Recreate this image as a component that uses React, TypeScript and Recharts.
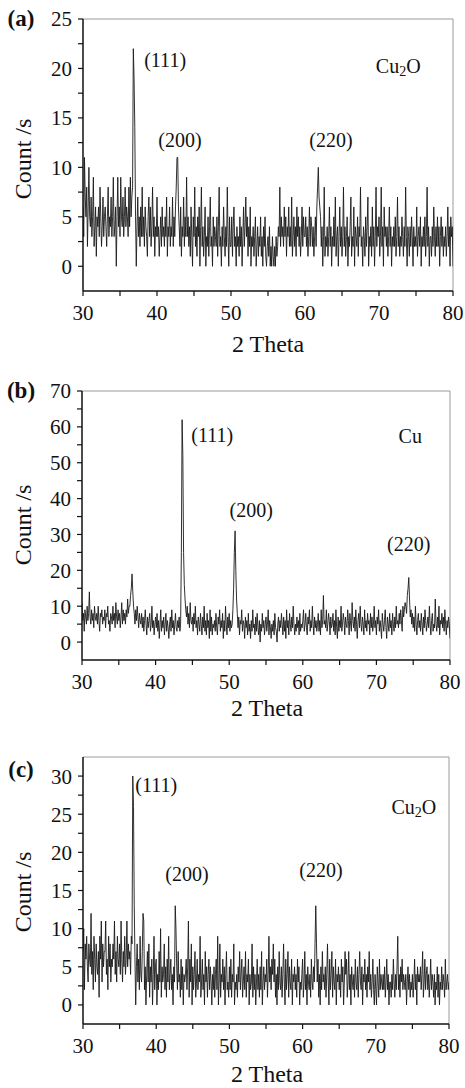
import React from 'react';
import { LineChart, Line, XAxis, YAxis, ReferenceDot, ReferenceLine } from 'recharts';

// 2-theta categories: 30.0 .. 80.0 in 0.1 degree steps
const theta: number[] = Array.from({ length: 501 }, (_, i) => Math.round((30 + i * 0.1) * 10) / 10);

// (a) Cu2O, one row per degree (x.0 .. x.9)
const countsA: number[] = [
  6, 3, 11, 7, 5, 8, 2, 6, 10, 5,
  4, 7, 3, 5, 9, 2, 4, 6, 1, 5,
  4, 6, 3, 8, 5, 2, 4, 7, 3, 5,
  6, 4, 2, 5, 8, 3, 5, 4, 7, 3,
  5, 9, 3, 4, 6, 0, 5, 9, 4, 6,
  3, 9, 5, 4, 7, 3, 5, 8, 4, 6,
  5, 3, 8, 4, 9, 5, 7, 8, 22, 19,
  14, 5, 0, 4, 7, 3, 5, 2, 6, 3,
  8, 3, 5, 2, 6, 4, 3, 1, 5, 7,
  3, 6, 2, 4, 8, 3, 5, 1, 4, 3,
  7, 3, 4, 1, 3, 5, 2, 6, 3, 4,
  2, 5, 3, 7, 1, 4, 3, 6, 2, 4,
  3, 7, 2, 5, 3, 6, 8, 11, 11, 6,
  4, 2, 6, 1, 4, 3, 7, 2, 5, 3,
  9, 3, 5, 2, 4, 1, 6, 3, 0, 5,
  3, 8, 2, 4, 1, 5, 3, 6, 0, 4,
  8, 2, 4, 1, 3, 6, 0, 3, 2, 5,
  1, 4, 7, 2, 3, 0, 5, 2, 4, 3,
  2, 5, 1, 4, 8, 2, 3, 0, 4, 2,
  6, 3, 1, 4, 2, 8, 3, 0, 5, 2,
  2, 5, 1, 4, 6, 2, 3, 0, 4, 2,
  3, 1, 5, 2, 4, 0, 3, 6, 2, 4,
  7, 3, 5, 1, 4, 2, 6, 0, 3, 2,
  4, 1, 3, 5, 0, 2, 4, 1, 3, 2,
  5, 1, 3, 0, 4, 2, 5, 1, 0, 2,
  3, 1, 4, 0, 2, 0, 3, 1, 0, 2,
  0, 3, 1, 2, 4, 3, 8, 2, 5, 3,
  4, 2, 6, 3, 5, 1, 4, 3, 6, 2,
  4, 2, 7, 1, 3, 5, 2, 4, 1, 6,
  3, 5, 2, 4, 1, 3, 6, 2, 5, 3,
  3, 5, 2, 4, 1, 3, 6, 2, 5, 4,
  2, 4, 1, 3, 5, 2, 6, 8, 10, 7,
  6, 5, 2, 4, 0, 3, 8, 1, 3, 2,
  4, 1, 3, 6, 2, 4, 0, 3, 2, 5,
  2, 7, 1, 3, 4, 0, 3, 6, 2, 4,
  1, 3, 8, 2, 4, 1, 3, 5, 0, 3,
  2, 4, 7, 1, 3, 2, 6, 0, 4, 3,
  2, 5, 1, 4, 3, 8, 2, 3, 0, 4,
  3, 1, 5, 2, 4, 7, 0, 3, 2, 4,
  1, 6, 2, 4, 0, 3, 8, 2, 4, 3,
  5, 1, 3, 8, 2, 4, 0, 6, 3, 4,
  2, 4, 1, 3, 6, 2, 4, 0, 3, 2,
  4, 2, 5, 1, 3, 7, 2, 4, 1, 3,
  2, 5, 3, 1, 4, 2, 8, 3, 0, 4,
  3, 1, 4, 2, 5, 3, 0, 4, 2, 3,
  2, 6, 1, 3, 4, 2, 5, 0, 3, 2,
  4, 2, 5, 1, 3, 8, 2, 4, 0, 3,
  3, 1, 4, 2, 6, 3, 1, 4, 2, 5,
  2, 4, 0, 3, 5, 2, 4, 1, 3, 2,
  4, 1, 3, 6, 2, 4, 0, 5, 3, 4,
  0,
];

// (b) Cu
const countsB: number[] = [
  11, 6, 8, 3, 9, 7, 5, 10, 6, 8,
  14, 7, 5, 9, 6, 8, 4, 10, 7, 6,
  8, 5, 10, 6, 3, 8, 7, 9, 5, 7,
  6, 9, 4, 8, 7, 10, 5, 6, 3, 8,
  7, 5, 10, 6, 8, 4, 11, 7, 5, 9,
  6, 8, 4, 7, 11, 5, 9, 6, 8, 5,
  9, 7, 12, 8, 10, 10, 13, 15, 19, 14,
  10, 8, 5, 9, 6, 10, 7, 4, 8, 6,
  5, 8, 4, 7, 3, 6, 9, 5, 2, 7,
  4, 6, 8, 3, 5, 10, 4, 6, 2, 5,
  7, 4, 8, 3, 6, 1, 5, 9, 3, 6,
  4, 7, 2, 5, 8, 3, 6, 4, 1, 5,
  7, 3, 9, 4, 6, 2, 5, 8, 4, 3,
  6, 4, 7, 3, 5, 25, 62, 52, 25, 16,
  12, 9, 7, 10, 5, 8, 4, 11, 6, 5,
  7, 3, 8, 5, 10, 4, 6, 2, 7, 5,
  3, 8, 5, 2, 7, 4, 10, 3, 6, 2,
  8, 4, 6, 1, 9, 3, 7, 2, 5, 4,
  6, 3, 8, 4, 2, 7, 5, 9, 3, 6,
  4, 8, 1, 6, 3, 10, 5, 2, 7, 4,
  8, 3, 6, 4, 5, 9, 15, 25, 31, 20,
  12, 8, 4, 7, 2, 6, 5, 9, 3, 6,
  5, 1, 7, 4, 6, 2, 8, 3, 5, 1,
  6, 3, 9, 4, 5, 2, 7, 3, 8, 4,
  2, 6, 0, 5, 3, 8, 4, 6, 2, 5,
  7, 3, 5, 9, 2, 6, 4, 1, 5, 3,
  6, 2, 8, 4, 3, 0, 5, 7, 3, 6,
  4, 8, 5, 2, 7, 3, 6, 1, 9, 4,
  6, 2, 8, 5, 3, 7, 4, 10, 5, 2,
  5, 3, 7, 4, 6, 2, 8, 3, 5, 4,
  6, 9, 3, 5, 8, 4, 2, 7, 5, 9,
  3, 6, 4, 10, 5, 2, 7, 4, 6, 3,
  5, 8, 3, 6, 2, 9, 4, 6, 13, 5,
  6, 4, 9, 3, 5, 8, 6, 2, 7, 4,
  5, 8, 3, 6, 2, 9, 4, 1, 7, 3,
  6, 4, 10, 3, 5, 8, 6, 2, 7, 5,
  4, 9, 6, 2, 8, 5, 3, 11, 6, 4,
  7, 3, 9, 5, 1, 6, 8, 4, 10, 5,
  3, 7, 5, 2, 9, 4, 6, 3, 8, 5,
  6, 2, 8, 4, 7, 3, 5, 10, 4, 6,
  2, 7, 5, 9, 3, 6, 4, 1, 8, 5,
  3, 6, 9, 4, 1, 7, 5, 3, 8, 4,
  6, 2, 8, 5, 3, 7, 4, 10, 5, 6,
  4, 8, 5, 9, 6, 3, 10, 7, 9, 11,
  10, 8, 13, 15, 18, 12, 7, 9, 5, 8,
  4, 7, 3, 10, 5, 2, 6, 8, 4, 6,
  3, 8, 5, 2, 7, 4, 9, 6, 3, 5,
  7, 4, 10, 5, 2, 6, 8, 3, 5, 4,
  12, 5, 3, 7, 4, 10, 2, 6, 5, 8,
  4, 7, 3, 9, 5, 2, 6, 4, 7, 5,
  1,
];

// (c) Cu2O
const countsC: number[] = [
  7, 10, 2, 8, 6, 9, 5, 3, 8, 6,
  5, 12, 4, 7, 2, 9, 6, 3, 8, 5,
  4, 7, 1, 9, 6, 11, 3, 8, 5, 7,
  7, 11, 4, 6, 2, 9, 5, 8, 3, 6,
  5, 8, 6, 11, 4, 7, 3, 9, 6, 5,
  8, 4, 11, 6, 3, 7, 5, 9, 4, 6,
  11, 5, 8, 6, 7, 4, 9, 8, 30, 26,
  13, 6, 0, 5, 8, 3, 6, 2, 9, 4,
  3, 7, 12, 11, 2, 5, 0, 4, 7, 3,
  8, 1, 5, 3, 6, 0, 4, 9, 2, 5,
  6, 0, 4, 2, 7, 3, 10, 1, 5, 3,
  4, 8, 2, 5, 1, 6, 3, 9, 2, 4,
  6, 2, 4, 0, 5, 3, 13, 10, 5, 2,
  7, 3, 4, 1, 6, 2, 5, 0, 4, 3,
  4, 6, 2, 5, 11, 1, 6, 3, 8, 0,
  5, 2, 4, 7, 1, 3, 6, 2, 4, 3,
  9, 1, 3, 6, 2, 4, 0, 7, 3, 5,
  1, 4, 6, 2, 5, 3, 0, 4, 2, 5,
  1, 4, 6, 2, 9, 0, 3, 8, 1, 4,
  3, 6, 2, 5, 0, 4, 7, 2, 3, 1,
  5, 2, 6, 1, 4, 3, 8, 0, 3, 2,
  4, 1, 5, 3, 7, 2, 4, 6, 1, 3,
  5, 2, 7, 1, 4, 3, 6, 0, 4, 2,
  3, 8, 1, 5, 2, 4, 0, 3, 6, 2,
  4, 1, 5, 2, 7, 0, 3, 5, 2, 4,
  3, 6, 1, 4, 9, 3, 5, 2, 6, 4,
  8, 3, 6, 1, 4, 0, 5, 2, 7, 3,
  2, 5, 1, 4, 8, 3, 0, 6, 2, 4,
  7, 1, 5, 3, 2, 6, 0, 4, 3, 5,
  2, 4, 1, 6, 3, 5, 0, 3, 2, 4,
  6, 1, 3, 7, 2, 4, 0, 5, 3, 2,
  4, 1, 6, 3, 2, 5, 3, 8, 13, 8,
  3, 6, 1, 4, 0, 5, 2, 7, 3, 4,
  2, 5, 1, 4, 8, 3, 0, 6, 2, 4,
  7, 1, 5, 3, 2, 6, 0, 4, 3, 5,
  2, 4, 1, 6, 3, 5, 0, 3, 7, 4,
  6, 1, 3, 7, 2, 4, 0, 5, 3, 2,
  4, 1, 6, 3, 2, 5, 1, 4, 7, 3,
  2, 5, 0, 4, 3, 6, 2, 4, 1, 5,
  3, 7, 2, 4, 1, 3, 6, 2, 0, 4,
  2, 0, 5, 3, 1, 6, 2, 4, 3, 2,
  4, 2, 5, 1, 3, 6, 2, 4, 0, 3,
  3, 1, 4, 2, 6, 3, 1, 4, 2, 5,
  9, 2, 4, 1, 5, 3, 6, 2, 4, 3,
  2, 4, 0, 3, 5, 2, 4, 1, 3, 2,
  4, 1, 3, 6, 2, 4, 0, 5, 3, 4,
  3, 5, 2, 4, 7, 1, 3, 6, 2, 4,
  5, 2, 4, 1, 3, 6, 2, 4, 3, 1,
  4, 0, 3, 2, 5, 1, 4, 0, 3, 2,
  5, 2, 4, 3, 1, 6, 2, 3, 4, 2,
  3,
];

const xTicks = [30, 35, 40, 45, 50, 55, 60, 65, 70, 75, 80];
const yTicksA = [0, 2.5, 5, 7.5, 10, 12.5, 15, 17.5, 20, 22.5, 25];
const yTicksB = [0, 5, 10, 15, 20, 25, 30, 35, 40, 45, 50, 55, 60, 65, 70];
const yTicksC = [0, 2.5, 5, 7.5, 10, 12.5, 15, 17.5, 20, 22.5, 25, 27.5, 30];

type Ann = { x: number; y: number; text: string; sub?: string; tail?: string };
const annA: Ann[] = [
  { x: 41.1, y: 20.9, text: '(111)' },
  { x: 43.1, y: 12.8, text: '(200)' },
  { x: 63.5, y: 12.8, text: '(220)' },
  { x: 72.6, y: 20.2, text: 'Cu', sub: '2', tail: 'O' },
];
const annB: Ann[] = [
  { x: 47.7, y: 57.7, text: '(111)' },
  { x: 53.0, y: 36.8, text: '(200)' },
  { x: 74.4, y: 27.3, text: '(220)' },
  { x: 74.6, y: 57.4, text: 'Cu' },
];
const annC: Ann[] = [
  { x: 40.0, y: 28.8, text: '(111)' },
  { x: 44.2, y: 17.2, text: '(200)' },
  { x: 62.5, y: 17.7, text: '(220)' },
  { x: 75.2, y: 26.0, text: 'Cu', sub: '2', tail: 'O' },
];

const FONT = '"Liberation Serif", "Times New Roman", serif';

const makeLabel = (a: Ann) => (props: any) => {
  const vb = props.viewBox || {};
  const cx = (vb.x || 0) + (vb.width || 0) / 2;
  const cy = (vb.y || 0) + (vb.height || 0) / 2;
  return (
    <text x={cx} y={cy} textAnchor="middle" dominantBaseline="central" fontFamily={FONT} fontSize={20} fill="#111">
      {a.text}
      {a.sub ? <tspan dy={5} fontSize={14}>{a.sub}</tspan> : null}
      {a.tail ? <tspan dy={-5}>{a.tail}</tspan> : null}
    </text>
  );
};

type PanelProps = {
  top: number;
  height: number;
  margin: { top: number; right: number; bottom: number; left: number };
  counts: number[];
  yDomain: [number, number];
  yTicks: number[];
  yLabelStep: number;
  anns: Ann[];
};

const Panel = ({ top, height, margin, counts, yDomain, yTicks, yLabelStep, anns }: PanelProps) => {
  const data = theta.map((t, i) => ({ t, v: counts[i] }));
  const tickStyle = { fontFamily: FONT, fontSize: 21, fill: '#111' };
  return (
    <div style={{ position: 'absolute', left: 0, top, width: 465, height }}>
      <LineChart width={465} height={height} data={data} margin={margin}>
        <XAxis
          dataKey="t"
          type="number"
          domain={[30, 80]}
          ticks={xTicks}
          tickFormatter={(v: number) => (v % 10 === 0 ? String(v) : '')}
          tick={tickStyle}
          tickSize={5}
          tickMargin={9}
          height={40}
          axisLine={{ stroke: '#111', strokeWidth: 1.5 }}
          tickLine={{ stroke: '#111', strokeWidth: 1.2 }}
          allowDataOverflow
          interval={0}
        />
        <YAxis
          type="number"
          domain={yDomain}
          ticks={yTicks}
          tickFormatter={(v: number) => (v % yLabelStep === 0 ? String(v) : '')}
          tick={tickStyle}
          tickSize={5}
          tickMargin={6}
          width={60}
          axisLine={{ stroke: '#111', strokeWidth: 1.5 }}
          tickLine={{ stroke: '#111', strokeWidth: 1.2 }}
          allowDataOverflow
          interval={0}
        />
        <ReferenceLine y={yDomain[1]} stroke="#9a9a9a" strokeWidth={1} ifOverflow="extendDomain" />
        <ReferenceLine x={80} stroke="#9a9a9a" strokeWidth={1} ifOverflow="extendDomain" />
        <Line
          type="linear"
          dataKey="v"
          dot={false}
          stroke="#1a1a1a"
          strokeWidth={0.9}
          isAnimationActive={false}
        />
        {anns.map((a, i) => (
          <ReferenceDot key={i} x={a.x} y={a.y} r={0} fill="none" stroke="none" label={makeLabel(a)} />
        ))}
      </LineChart>
    </div>
  );
};

const txt = (s: React.ReactNode, left: number, top: number, extra: React.CSSProperties = {}) => (
  <div
    style={{
      position: 'absolute',
      left,
      top,
      transform: 'translate(-50%, -50%)',
      fontFamily: FONT,
      fontSize: 24,
      lineHeight: 1,
      whiteSpace: 'nowrap',
      color: '#111',
      ...extra,
    }}
  >
    {s}
  </div>
);

export default function App() {
  return (
    <div style={{ position: 'absolute', left: 0, top: 0, width: 465, height: 1088, background: '#fff', overflow: 'hidden' }}>
      <Panel
        top={0}
        height={360}
        margin={{ top: 19, right: 12, bottom: 29, left: 23 }}
        counts={countsA}
        yDomain={[-2.5, 25]}
        yTicks={yTicksA}
        yLabelStep={5}
        anns={annA}
      />
      <Panel
        top={360}
        height={360}
        margin={{ top: 31, right: 15, bottom: 20, left: 22 }}
        counts={countsB}
        yDomain={[-5, 70]}
        yTicks={yTicksB}
        yLabelStep={10}
        anns={annB}
      />
      <Panel
        top={720}
        height={368}
        margin={{ top: 37, right: 16, bottom: 24, left: 23 }}
        counts={countsC}
        yDomain={[-2.5, 32.5]}
        yTicks={yTicksC}
        yLabelStep={5}
        anns={annC}
      />
      {txt('(a)', 21, 18, { fontWeight: 'bold', fontSize: 23 })}
      {txt('(b)', 21, 390, { fontWeight: 'bold', fontSize: 23 })}
      {txt('(c)', 21, 769, { fontWeight: 'bold', fontSize: 23 })}
      {txt('Count /s', 23, 159, { transform: 'translate(-50%, -50%) rotate(-90deg)' })}
      {txt('Count /s', 23, 525, { transform: 'translate(-50%, -50%) rotate(-90deg)' })}
      {txt('Count /s', 23, 892, { transform: 'translate(-50%, -50%) rotate(-90deg)' })}
      {txt('2 Theta', 268, 344)}
      {txt('2 Theta', 267, 708)}
      {txt('2 Theta', 267, 1074)}
    </div>
  );
}
